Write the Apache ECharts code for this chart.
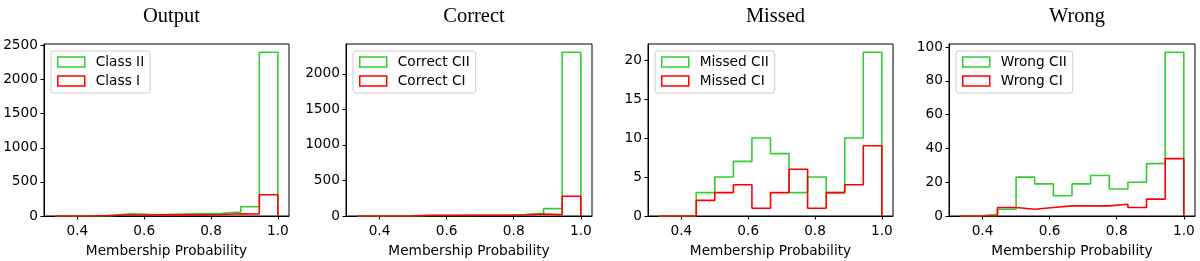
<!DOCTYPE html>
<html><head><meta charset="utf-8">
<script src="https://cdn.jsdelivr.net/npm/echarts@6/dist/echarts.min.js"></script>
<style>html,body{margin:0;padding:0;background:#fff}#c{width:1200px;height:261px}</style>
</head><body><div id="c"></div>
<script>
// Histogram bins: 12 bins from 1/3 to 1 (width 1/18)
const binStart = 1/3, binWidth = 1/18, binCount = 12;
const panelTitles = ['Output', 'Correct', 'Missed', 'Wrong'];
const greenNames = ['Class II', 'Correct CII', 'Missed CII', 'Wrong CII'];
const redNames = ['Class I', 'Correct CI', 'Missed CI', 'Wrong CI'];

const outputCII  = [0, 1, 5, 31, 25, 21, 29, 35, 38, 58, 135, 2402];
const outputCI   = [0, 0, 8, 14, 15, 16, 16, 17, 22, 33, 29, 311];
const correctCII = [0, 0, 1, 8, 6, 9, 10, 11, 22, 38, 104, 2305];
const correctCI  = [0, 0, 3, 10, 10, 10, 10, 11, 15, 28, 19, 277];
const missedCII  = [0, 0, 3, 5, 7, 10, 8, 3, 5, 3, 10, 21];
const missedCI   = [0, 0, 2, 3, 4, 1, 3, 6, 1, 3, 4, 9];
const wrongCII   = [0, 1, 4, 23, 19, 12, 19, 24, 16, 20, 31, 97];
const wrongCI    = [0, 0, 5, 4, 5, 6, 6, 6, 7, 5, 10, 34];

const greenData = [outputCII, correctCII, missedCII, wrongCII];
const redData = [outputCI, correctCI, missedCI, wrongCI];

const xTicks = [0.4, 0.6, 0.8, 1.0];
const yTicks = [
  [0, 500, 1000, 1500, 2000, 2500],
  [0, 500, 1000, 1500, 2000],
  [0, 5, 10, 15, 20],
  [0, 20, 40, 60, 80, 100]
];

const GREEN = '#32cd32', RED = '#ff0000';
const gridLeft = [44, 346, 648, 949];
const gridWidth = [245, 246, 245, 246];
const gridTop = 44, gridBottom = 45;

function stepPoints(vals) {
  const pts = [[binStart, 0]];
  for (let i = 0; i < binCount; i++) pts.push([binStart + i * binWidth, vals[i]]);
  pts.push([binStart + binCount * binWidth, vals[binCount - 1]]);
  pts.push([binStart + binCount * binWidth, 0]);
  return pts;
}

const font = 'DejaVu Sans';
const fs = 13.7;
const grids = [], xAxes = [], yAxes = [], series = [], titles = [], legends = [];
for (let p = 0; p < 4; p++) {
  grids.push({left: gridLeft[p], width: gridWidth[p], top: gridTop, bottom: gridBottom,
    containLabel: false, outerBoundsMode: 'none',
    show: true, borderColor: '#000', borderWidth: 1, backgroundColor: 'transparent'});
  const xmin = binStart - 0.05 * (binCount * binWidth);
  const xmax = 1 + 0.05 * (binCount * binWidth);
  xAxes.push({type: 'value', gridIndex: p, min: xmin, max: xmax,
    name: 'Membership Probability', nameLocation: 'middle', nameGap: 28,
    nameTextStyle: {fontFamily: font, fontSize: fs, color: '#000'},
    splitLine: {show: false},
    axisLine: {show: true, lineStyle: {color: '#000', width: 1}},
    axisTick: {show: true, length: 3.5, customValues: xTicks, lineStyle: {color: '#000'}},
    axisLabel: {customValues: xTicks, margin: 8, fontFamily: font, fontSize: fs, color: '#000',
      formatter: v => v.toFixed(1)}
  });
  const gmax = Math.max(...greenData[p], ...redData[p]);
  yAxes.push({type: 'value', gridIndex: p, min: 0, max: gmax * 1.05,
    splitLine: {show: false},
    axisLine: {show: true, lineStyle: {color: '#000', width: 1}},
    axisTick: {show: true, length: 3.5, customValues: yTicks[p], lineStyle: {color: '#000'}},
    axisLabel: {customValues: yTicks[p], margin: 6, fontFamily: font, fontSize: fs, color: '#000',
      formatter: v => String(Math.round(v))}
  });
  series.push({type: 'line', name: greenNames[p], xAxisIndex: p, yAxisIndex: p, step: 'end',
    symbol: 'none', data: stepPoints(greenData[p]), lineStyle: {color: GREEN, width: 1.6},
    itemStyle: {color: GREEN}, animation: false, silent: true});
  series.push({type: 'line', name: redNames[p], xAxisIndex: p, yAxisIndex: p, step: 'end',
    symbol: 'none', data: stepPoints(redData[p]), lineStyle: {color: RED, width: 1.6},
    itemStyle: {color: RED}, animation: false, silent: true});
  titles.push({text: panelTitles[p], left: gridLeft[p] + gridWidth[p] / 2, top: 1, textAlign: 'center',
    textStyle: {fontFamily: 'Liberation Serif', fontSize: 20.5, fontWeight: 'normal', color: '#000'}});
  legends.push({left: gridLeft[p] + 7, top: gridTop + 7, orient: 'vertical',
    itemWidth: 27, itemHeight: 10, itemGap: 5, padding: [4, 6, 5, 6],
    backgroundColor: 'rgba(255,255,255,0.8)', borderColor: '#cccccc', borderWidth: 1, borderRadius: 3,
    selectedMode: false,
    textStyle: {fontFamily: font, fontSize: fs, color: '#000', padding: [0, 0, 0, 6]},
    data: [
      {name: greenNames[p], icon: 'rect', itemStyle: {color: '#fff', borderColor: GREEN, borderWidth: 1.5}},
      {name: redNames[p], icon: 'rect', itemStyle: {color: '#fff', borderColor: RED, borderWidth: 1.5}}
    ]});
}

const chart = echarts.init(document.getElementById('c'), null, {renderer: 'canvas'});
chart.setOption({animation: false, grid: grids, xAxis: xAxes, yAxis: yAxes, series, title: titles, legend: legends});
</script></body></html>
